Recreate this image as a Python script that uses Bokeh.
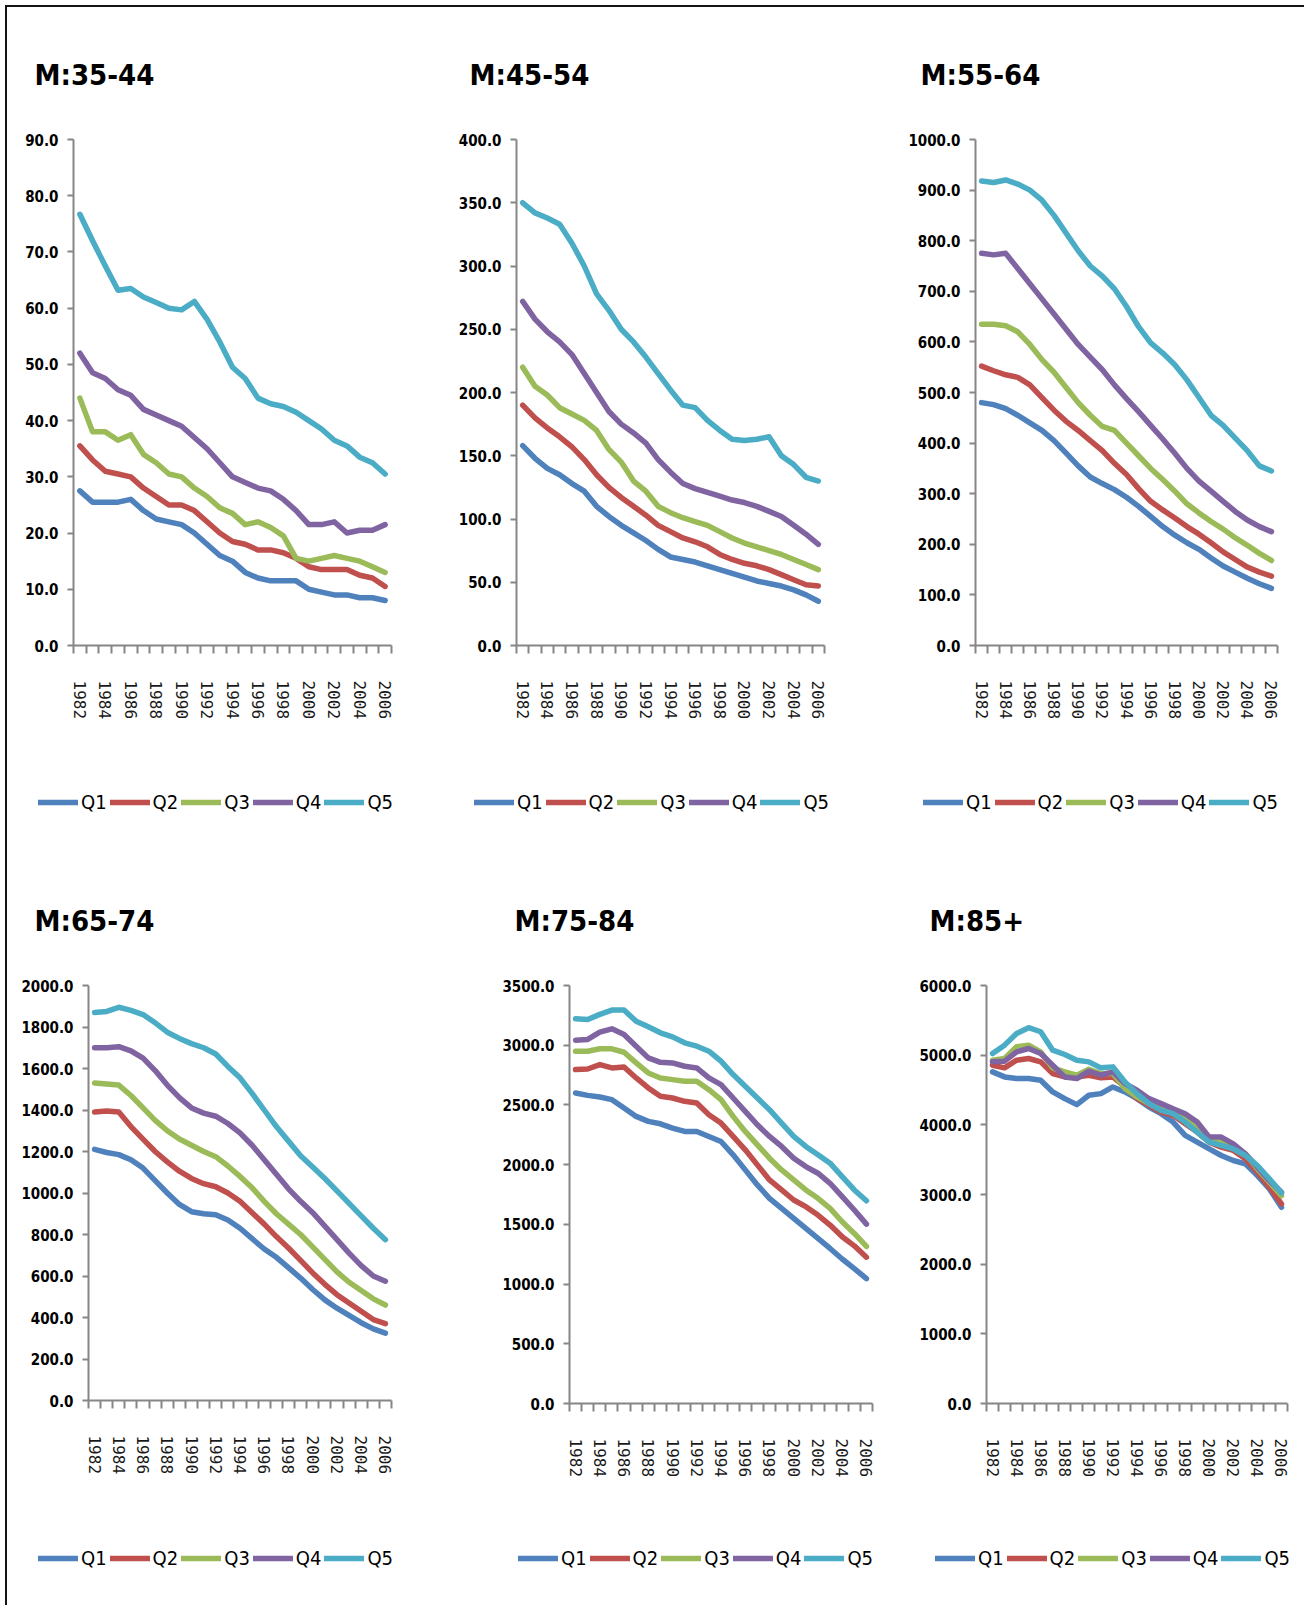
from bokeh.plotting import figure
from bokeh.models import Range1d, FixedTicker, NumeralTickFormatter, Legend, LegendItem
from bokeh.layouts import row, column
from bokeh.embed import file_html
from bokeh.resources import INLINE

# ---- data -------------------------------------------------------------
YEARS = list(range(1982, 2007))
YEAR_TICKS = YEARS[::2]
YEAR_LABELS = [str(y) for y in YEAR_TICKS]
SERIES = ["Q1", "Q2", "Q3", "Q4", "Q5"]
COLORS = ["#4F81BD", "#C0504D", "#9BBB59", "#8064A2", "#4BACC6"]

# M:35-44
m35_q1 = [27.5, 25.5, 25.5, 25.5, 26.0, 24.0, 22.5, 22.0, 21.5, 20.0, 18.0, 16.0, 15.0,
          13.0, 12.0, 11.5, 11.5, 11.5, 10.0, 9.5, 9.0, 9.0, 8.5, 8.5, 8.0]
m35_q2 = [35.5, 33.0, 31.0, 30.5, 30.0, 28.0, 26.5, 25.0, 25.0, 24.0, 22.0, 20.0, 18.5,
          18.0, 17.0, 17.0, 16.5, 15.5, 14.0, 13.5, 13.5, 13.5, 12.5, 12.0, 10.5]
m35_q3 = [44.0, 38.0, 38.0, 36.5, 37.5, 34.0, 32.5, 30.5, 30.0, 28.0, 26.5, 24.5, 23.5,
          21.5, 22.0, 21.0, 19.5, 15.5, 15.0, 15.5, 16.0, 15.5, 15.0, 14.0, 13.0]
m35_q4 = [52.0, 48.5, 47.5, 45.5, 44.5, 42.0, 41.0, 40.0, 39.0, 37.0, 35.0, 32.5, 30.0,
          29.0, 28.0, 27.5, 26.0, 24.0, 21.5, 21.5, 22.0, 20.0, 20.5, 20.5, 21.5]
m35_q5 = [76.7, 72.0, 67.5, 63.2, 63.5, 62.0, 61.0, 60.0, 59.7, 61.2, 58.0, 54.0, 49.5,
          47.5, 44.0, 43.0, 42.5, 41.5, 40.0, 38.5, 36.5, 35.5, 33.5, 32.5, 30.5]

# M:45-54
m45_q1 = [158, 148, 140, 135, 128, 122, 110, 102, 95, 89, 83, 76, 70,
          68, 66, 63, 60, 57, 54, 51, 49, 47, 44, 40, 35]
m45_q2 = [190, 180, 172, 165, 157, 147, 135, 125, 117, 110, 103, 95, 90,
          85, 82, 78, 72, 68, 65, 63, 60, 56, 52, 48, 47]
m45_q3 = [220, 205, 198, 188, 183, 178, 170, 155, 145, 130, 122, 110, 105,
          101, 98, 95, 90, 85, 81, 78, 75, 72, 68, 64, 60]
m45_q4 = [272, 258, 248, 240, 230, 215, 200, 185, 175, 168, 160, 147, 137,
          128, 124, 121, 118, 115, 113, 110, 106, 102, 95, 88, 80]
m45_q5 = [350, 342, 338, 333, 318, 300, 278, 265, 250, 240, 228, 215, 202,
          190, 188, 178, 170, 163, 162, 163, 165, 150, 143, 133, 130]

# M:55-64
m55_q1 = [480, 476, 468, 455, 440, 425, 405, 380, 355, 333, 320, 308, 293,
          275, 255, 235, 218, 203, 190, 173, 157, 145, 133, 122, 113]
m55_q2 = [552, 543, 535, 530, 515, 490, 465, 443, 425, 405, 385, 360, 338,
          310, 285, 268, 252, 235, 220, 203, 185, 170, 155, 145, 137]
m55_q3 = [635, 635, 632, 620, 595, 565, 540, 510, 480, 455, 433, 425, 400,
          375, 350, 328, 305, 280, 262, 245, 230, 213, 198, 182, 168]
m55_q4 = [775, 772, 775, 745, 715, 685, 655, 625, 595, 570, 545, 515, 488,
          462, 435, 408, 380, 350, 325, 305, 285, 265, 248, 235, 225]
m55_q5 = [918, 915, 920, 912, 900, 880, 850, 815, 780, 750, 730, 705, 670,
          630, 598, 578, 555, 525, 490, 455, 435, 410, 385, 355, 345]

# M:65-74
m65_q1 = [1210, 1195, 1185, 1160, 1120, 1060, 1000, 945, 910, 900, 895, 870, 830,
          780, 730, 690, 640, 590, 535, 485, 445, 410, 375, 345, 325]
m65_q2 = [1390, 1395, 1390, 1320, 1260, 1200, 1150, 1105, 1070, 1045, 1030, 1000, 960,
          905, 850, 790, 735, 675, 615, 560, 510, 470, 430, 390, 370]
m65_q3 = [1530, 1525, 1520, 1470, 1410, 1350, 1300, 1260, 1230, 1200, 1175, 1130, 1080,
          1025, 960, 900, 850, 800, 740, 680, 620, 570, 530, 490, 460]
m65_q4 = [1700, 1700, 1705, 1685, 1650, 1590, 1520, 1460, 1410, 1385, 1370, 1335, 1290,
          1230, 1160, 1090, 1020, 960, 905, 840, 775, 710, 650, 600, 575]
m65_q5 = [1870, 1875, 1895, 1880, 1860, 1820, 1775, 1745, 1720, 1700, 1670, 1610, 1555,
          1480, 1400, 1320, 1250, 1180, 1125, 1070, 1010, 950, 890, 830, 775]

# M:75-84
m75_q1 = [2600, 2580, 2566, 2544, 2474, 2404, 2362, 2342, 2306, 2278, 2278, 2236, 2194,
          2082, 1956, 1830, 1718, 1634, 1550, 1466, 1382, 1298, 1210, 1130, 1045]
m75_q2 = [2796, 2801, 2838, 2810, 2818, 2726, 2642, 2572, 2558, 2530, 2516, 2418, 2348,
          2236, 2124, 1998, 1872, 1788, 1704, 1648, 1578, 1494, 1396, 1320, 1225]
m75_q3 = [2950, 2950, 2970, 2970, 2941, 2852, 2768, 2726, 2712, 2698, 2698, 2628, 2544,
          2404, 2278, 2166, 2054, 1956, 1872, 1788, 1718, 1634, 1522, 1424, 1315]
m75_q4 = [3042, 3048, 3109, 3137, 3090, 2992, 2894, 2857, 2852, 2824, 2810, 2726, 2670,
          2558, 2446, 2334, 2236, 2152, 2054, 1984, 1928, 1844, 1732, 1620, 1502]
m75_q5 = [3221, 3215, 3258, 3294, 3294, 3200, 3154, 3104, 3070, 3020, 2992, 2950, 2866,
          2754, 2656, 2558, 2460, 2348, 2236, 2152, 2082, 2012, 1900, 1788, 1698]

# M:85+
m85_q1 = [4760, 4688, 4664, 4664, 4640, 4472, 4376, 4290, 4424, 4448, 4544, 4472, 4376,
          4256, 4160, 4040, 3848, 3752, 3656, 3560, 3488, 3440, 3272, 3080, 2816]
m85_q2 = [4856, 4818, 4928, 4952, 4904, 4736, 4688, 4688, 4712, 4674, 4688, 4544, 4376,
          4280, 4184, 4136, 4016, 3896, 3752, 3680, 3632, 3512, 3320, 3104, 2864]
m85_q3 = [4928, 4952, 5120, 5144, 5048, 4818, 4760, 4712, 4798, 4736, 4736, 4520, 4400,
          4304, 4232, 4184, 4088, 3968, 3800, 3752, 3704, 3584, 3368, 3176, 2984]
m85_q4 = [4904, 4914, 5048, 5096, 5024, 4856, 4688, 4664, 4770, 4712, 4760, 4592, 4496,
          4376, 4304, 4232, 4160, 4040, 3824, 3824, 3728, 3584, 3392, 3200, 3032]
m85_q5 = [5024, 5144, 5312, 5394, 5336, 5072, 5010, 4928, 4904, 4818, 4832, 4616, 4448,
          4304, 4208, 4160, 4040, 3896, 3752, 3704, 3656, 3560, 3416, 3224, 3022]

# ---- styling ----------------------------------------------------------
COND = "DejaVu Sans Condensed"
AXIS_GREY = "#868686"
LINE_W = 5.5


def make_panel(title, series, ymax, ystep, left, top, fw, fh, right, bottom, title_dx):
    p = figure(frame_width=fw, frame_height=fh,
               min_border_left=left, min_border_top=top,
               min_border_right=right, min_border_bottom=bottom,
               x_range=Range1d(1981.5, 2006.5), y_range=Range1d(0, ymax),
               output_backend="svg", toolbar_location=None,
               background_fill_color="white", border_fill_color="white")
    p.outline_line_color = None
    p.xgrid.visible = False
    p.ygrid.visible = False

    # panel heading, lifted well clear of the plot area
    p.title.text = title
    p.title.align = "left"
    p.title.offset = title_dx
    p.title.standoff = 96
    p.title.text_font = COND
    p.title.text_font_style = "bold"
    p.title.text_font_size = "29px"
    p.title.text_color = "black"

    # value axis
    yax = p.left[0]
    yax.ticker = FixedTicker(ticks=list(range(0, ymax + 1, ystep)), minor_ticks=[])
    yax.formatter = NumeralTickFormatter(format="0.0")
    yax.axis_line_color = AXIS_GREY
    yax.axis_line_width = 2
    yax.major_tick_line_color = AXIS_GREY
    yax.major_tick_line_width = 2
    yax.major_tick_out = 6
    yax.major_tick_in = 0
    yax.minor_tick_line_color = None
    yax.major_label_standoff = 9
    yax.major_label_text_font = COND
    yax.major_label_text_font_style = "bold"
    yax.major_label_text_font_size = "15px"
    yax.major_label_text_color = "black"

    # category axis: labels every second year, tick marks between categories
    xax = p.below[0]
    bounds = [y - 0.5 for y in YEARS] + [YEARS[-1] + 0.5]
    xax.ticker = FixedTicker(ticks=YEAR_TICKS, minor_ticks=bounds)
    xax.major_label_overrides = dict(zip(YEAR_TICKS, YEAR_LABELS))
    xax.major_label_orientation = "vertical"
    xax.axis_line_color = AXIS_GREY
    xax.axis_line_width = 2
    xax.major_tick_line_color = None
    xax.major_tick_out = 0
    xax.major_tick_in = 0
    xax.minor_tick_line_color = AXIS_GREY
    xax.minor_tick_line_width = 2
    xax.minor_tick_out = 8
    xax.minor_tick_in = 0
    xax.major_label_standoff = 27
    xax.major_label_text_font = "DejaVu Sans Mono"
    xax.major_label_text_font_size = "16px"
    xax.major_label_text_color = "#1a1a1a"

    for vals, color in zip(series, COLORS):
        p.line(YEARS, vals, line_color=color, line_width=LINE_W,
               line_join="round", line_cap="round")
    return p


def make_legend(width, height, series, lx, ly):
    """A strip under a panel holding the Q1..Q5 key."""
    f = figure(width=width, height=height, min_border=0,
               x_axis_type=None, y_axis_type=None,
               output_backend="svg", toolbar_location=None,
               background_fill_color="white", border_fill_color="white")
    f.outline_line_color = None
    items = []
    for name, vals, color in zip(SERIES, series, COLORS):
        r = f.line(YEARS, vals, line_color=color, line_width=LINE_W,
                   line_cap="round", visible=False)
        items.append(LegendItem(label=name, renderers=[r]))
    f.add_layout(Legend(items=items, orientation="horizontal", location=(lx, ly),
                        border_line_color=None, background_fill_alpha=0,
                        inactive_fill_alpha=0,
                        padding=0, margin=0, spacing=3,
                        glyph_width=40, glyph_height=20, label_standoff=3,
                        label_text_font=COND, label_text_font_size="20px",
                        label_text_color="black"))
    return f


s35 = [m35_q1, m35_q2, m35_q3, m35_q4, m35_q5]
s45 = [m45_q1, m45_q2, m45_q3, m45_q4, m45_q5]
s55 = [m55_q1, m55_q2, m55_q3, m55_q4, m55_q5]
s65 = [m65_q1, m65_q2, m65_q3, m65_q4, m65_q5]
s75 = [m75_q1, m75_q2, m75_q3, m75_q4, m75_q5]
s85 = [m85_q1, m85_q2, m85_q3, m85_q4, m85_q5]

p1 = make_panel("M:35-44", s35, 90, 10, 66, 132, 318, 506, 49, 100, -39)
p2 = make_panel("M:45-54", s45, 400, 50, 76, 132, 308, 506, 56, 100, -47)
p3 = make_panel("M:55-64", s55, 1000, 100, 95, 132, 302, 506, 27, 100, -55)
p4 = make_panel("M:65-74", s65, 2000, 200, 81, 135, 303, 415, 49, 100, -54)
p5 = make_panel("M:75-84", s75, 3500, 500, 129, 134, 303, 418, 8, 98, -55)
p6 = make_panel("M:85+", s85, 6000, 1000, 106, 134, 301, 418, 17, 98, -57)

l1 = make_legend(433, 105, s35, 31, 36)
l2 = make_legend(440, 105, s45, 34, 36)
l3 = make_legend(424, 105, s55, 43, 36)
l4 = make_legend(433, 105, s65, 31, 35)
l5 = make_legend(440, 105, s75, 78, 35)
l6 = make_legend(424, 105, s85, 55, 35)

layout = column(row(p1, p2, p3, spacing=0), row(l1, l2, l3, spacing=0),
                row(p4, p5, p6, spacing=0), row(l4, l5, l6, spacing=0),
                spacing=0,
                styles={"border-top": "2px solid #141414",
                        "border-left": "2px solid #141414",
                        "margin-left": "5px", "margin-top": "5px"})

open("out.html", "w").write(file_html(layout, INLINE))
